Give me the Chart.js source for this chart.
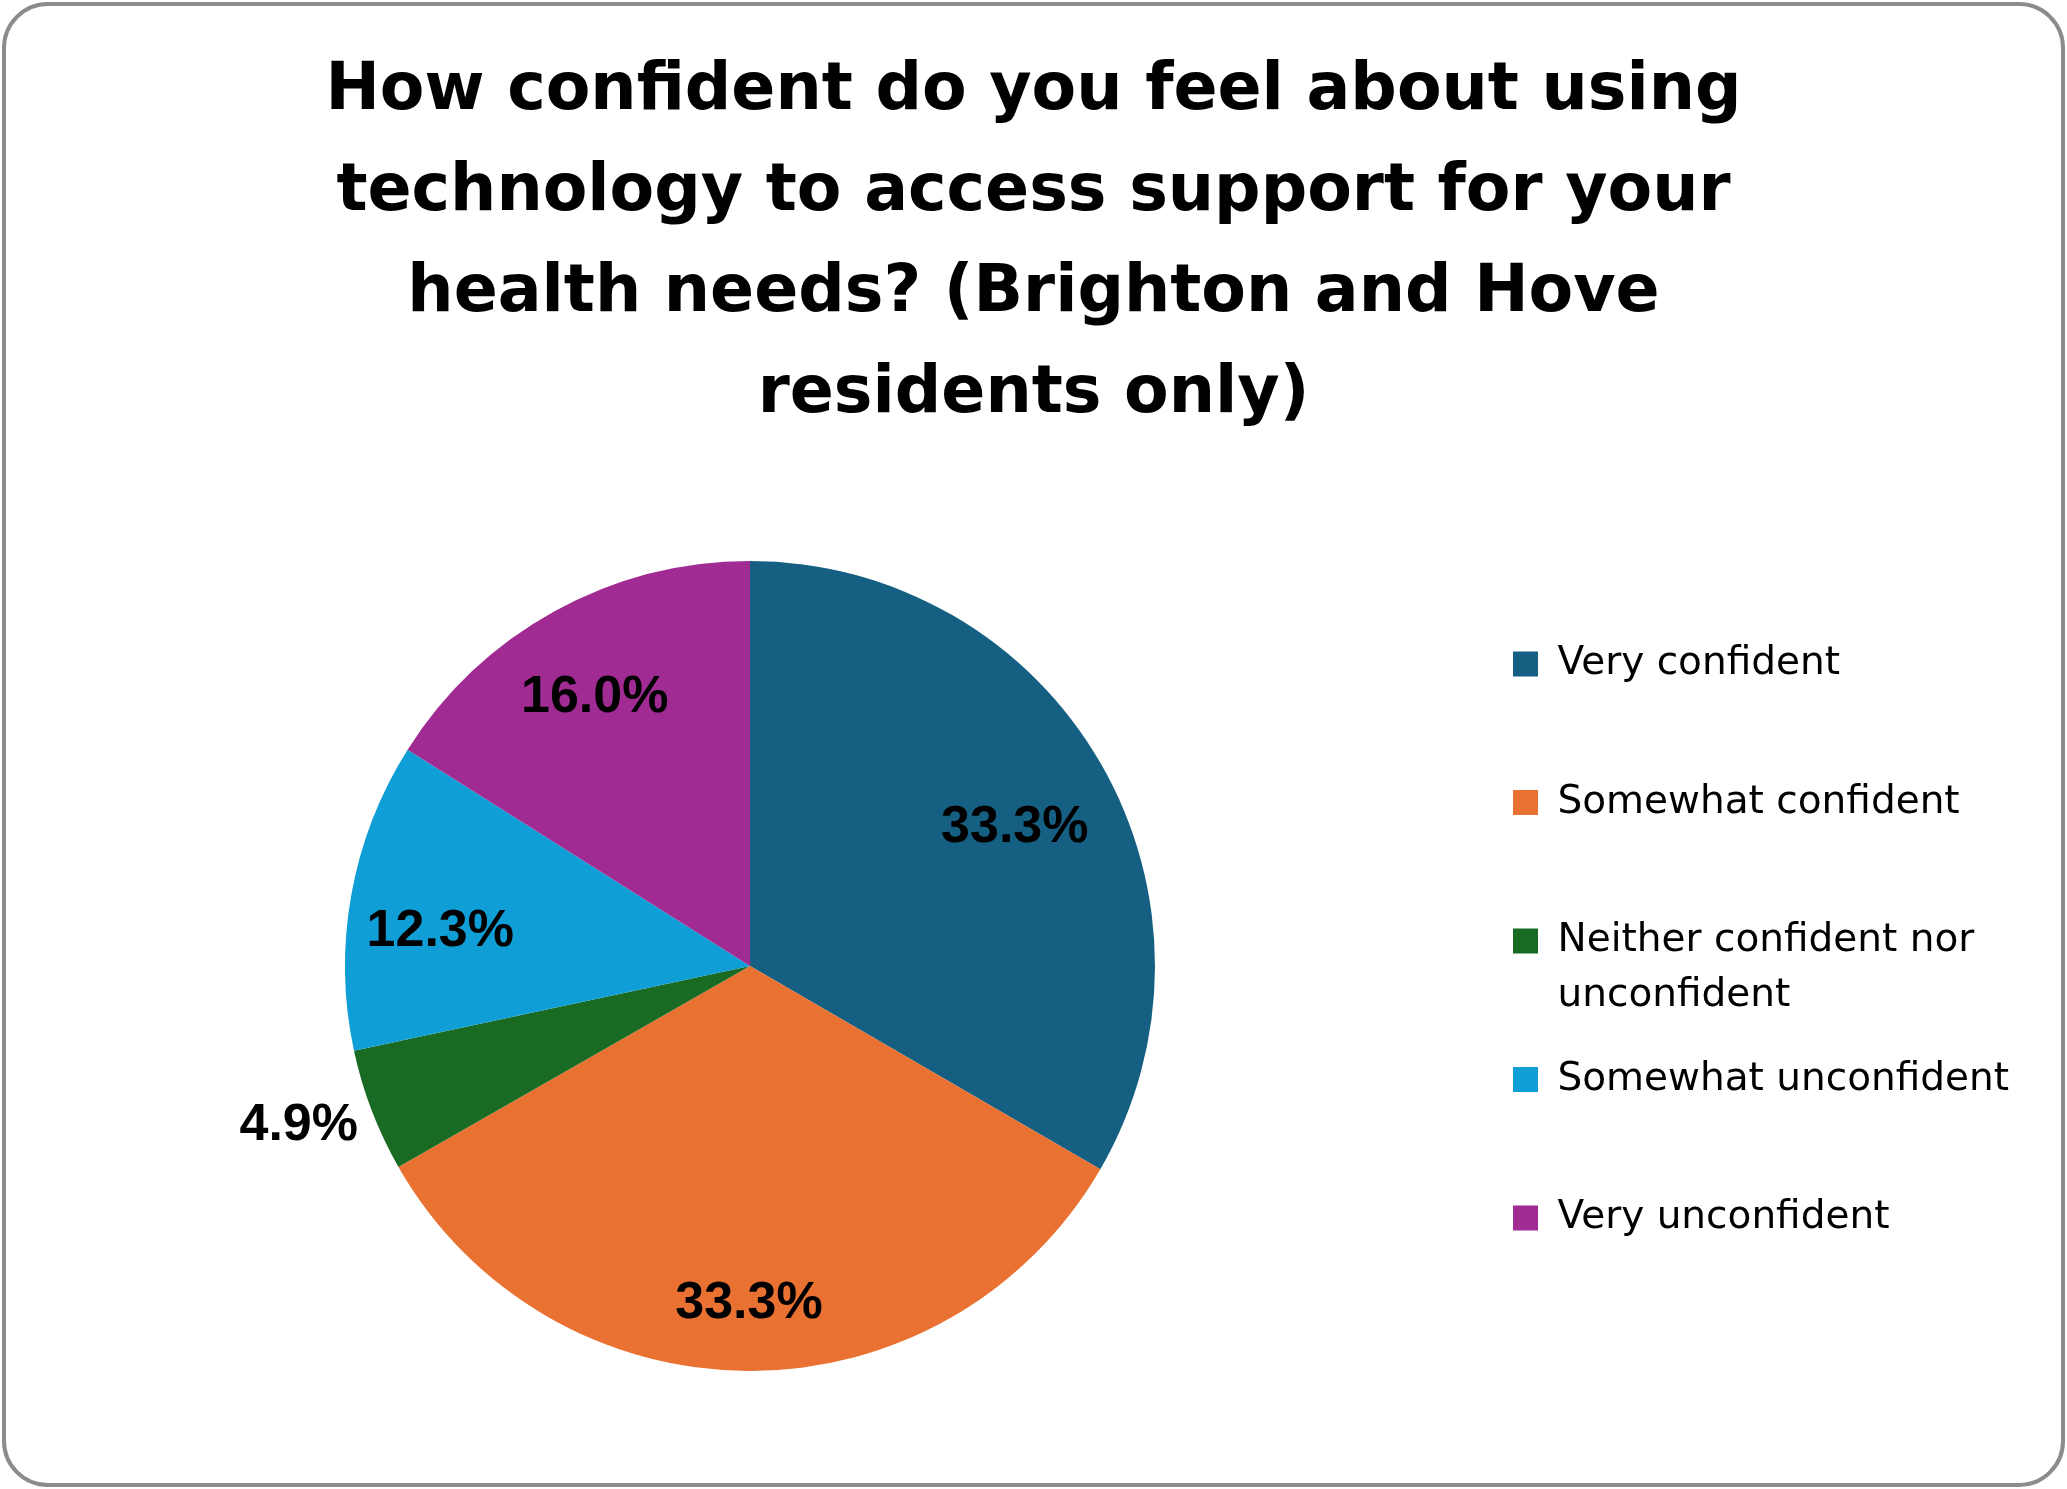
<!DOCTYPE html>
<html>
<head>
<meta charset="utf-8">
<script src="https://cdn.jsdelivr.net/npm/chart.js@4.4.1/dist/chart.umd.min.js"></script>
<style>
  html, body { margin: 0; padding: 0; background: #fff; }
  #wrap { position: relative; width: 2067px; height: 1489px; }
  #frame { position: absolute; left: 2px; top: 2px; right: 2px; bottom: 2px; box-sizing: border-box;
           border: 4px solid #8c8c8c; border-radius: 46px; pointer-events: none; }
  canvas { position: absolute; left: 0; top: 0; }
</style>
</head>
<body>
<div id="wrap"><canvas id="myChart" width="2067" height="1489"></canvas><div id="frame"></div></div>
<script>
// data
const categories = ['Very confident', 'Somewhat confident', 'Neither confident nor unconfident', 'Somewhat unconfident', 'Very unconfident'];
const percentages = [33.3, 33.3, 4.9, 12.3, 16.0];
const titleLines = ['How confident do you feel about using', 'technology to access support for your', 'health needs? (Brighton and Hove', 'residents only)'];

// styling
const colours = ['#156082', '#E97132', '#196B24', '#0F9ED5', '#A02B93'];
// legend wrapping as in the original, padded to two lines so every item takes the same room
const legendLines = [['Very confident', ''], ['Somewhat confident', ''], ['Neither confident nor', 'unconfident'], ['Somewhat unconfident', ''], ['Very unconfident', '']];
const labelRadius = [0.74, 0.83, 1.18, 0.77, 0.77];   // fraction of pie radius
const labelShift = [2, 0, 1.7, -3.4, -1];              // degrees, clockwise

const legendFont = 39;
const legendLineHeight = 55;
const legendPad = 28.5;
const legendBox = 25;
const legendLeft = 1513 - legendPad;   // box left edge at 1513
const pieCentreX = 750;

// keep the title centred on the whole canvas, not only left of the legend
const centreTitle = {
  id: 'centreTitle',
  afterLayout(chart) {
    const t = chart.titleBlock;
    t.left = 0; t.right = chart.width; t.width = chart.width;
  }
};

const sliceLabels = {
  id: 'sliceLabels',
  afterDatasetsDraw(chart) {
    const ctx = chart.ctx;
    const meta = chart.getDatasetMeta(0);
    ctx.save();
    ctx.font = 'bold 52px "Liberation Sans", Arial, sans-serif';
    ctx.fillStyle = '#000';
    ctx.textAlign = 'center';
    ctx.textBaseline = 'middle';
    meta.data.forEach((arc, i) => {
      const p = arc.getProps(['x', 'y', 'startAngle', 'endAngle', 'outerRadius'], true);
      const a = (p.startAngle + p.endAngle) / 2 + labelShift[i] * Math.PI / 180;
      const r = p.outerRadius * labelRadius[i];
      ctx.fillText(percentages[i].toFixed(1) + '%', p.x + r * Math.cos(a), p.y + 2 + r * Math.sin(a));
    });
    ctx.restore();
  }
};

const data = {
  labels: categories,
  datasets: [{
    data: percentages,
    backgroundColor: colours,
    borderWidth: 0
  }]
};

const config = {
  type: 'pie',
  data: data,
  plugins: [centreTitle, sliceLabels],
  options: {
    responsive: false,
    animation: false,
    devicePixelRatio: 1,
    layout: { padding: { left: 2 * pieCentreX - legendLeft, right: 0, top: 0, bottom: 118 } },
    plugins: {
      tooltip: { enabled: false },
      title: {
        display: true,
        text: titleLines,
        color: '#000',
        font: { family: 'DejaVu Sans', weight: 'bold', size: 65, lineHeight: 101 / 65 },
        padding: { top: 42, bottom: 115 }
      },
      legend: {
        position: 'right',
        align: 'start',
        fullSize: false,
        title: { display: true, text: '', font: { size: 10, lineHeight: 1 }, padding: { top: 0, bottom: 45 } },
        labels: {
          color: '#000',
          font: { family: 'DejaVu Sans', size: legendFont, lineHeight: legendLineHeight / legendFont },
          boxWidth: legendBox,
          boxHeight: legendBox,
          padding: legendPad,
          generateLabels: () => categories.map((c, i) => ({
            text: legendLines[i],
            fillStyle: colours[i],
            strokeStyle: colours[i],
            lineWidth: 0,
            fontColor: '#000',
            hidden: false,
            index: i
          }))
        }
      }
    }
  }
};

const myChart = new Chart(document.getElementById('myChart'), config);
// put the legend's left edge where the original has it
myChart.options.layout.padding.right = Math.max(0, myChart.width - legendLeft - myChart.legend.width);
myChart.update();
</script>
</body>
</html>
